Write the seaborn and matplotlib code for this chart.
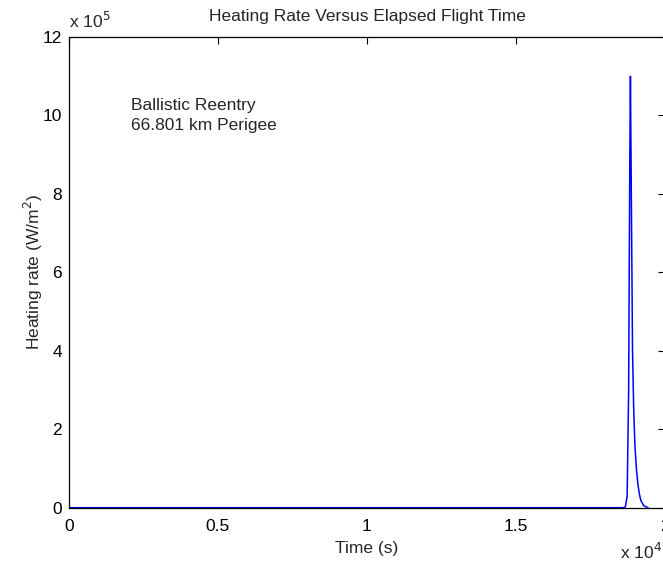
import matplotlib
matplotlib.use("Agg")
import matplotlib.pyplot as plt
import seaborn as sns
import pandas as pd

# Data (time in s, heating rate in W/m^2)
time_s = [0, 5000, 10000, 15000, 18600, 18680, 18740, 18790, 18830, 18850,
          18880, 18920, 18960, 19000, 19050, 19100, 19150, 19200, 19300, 19440]
heating = [0, 0, 0, 0, 0, 2000, 30000, 300000, 900000, 1100000,
           800000, 400000, 250000, 160000, 100000, 60000, 35000, 18000, 5000, 0]

x_ticks = [0, 5000, 10000, 15000, 20000]
x_tick_labels = ["0", "0.5", "1", "1.5", "2"]
y_ticks = [0, 200000, 400000, 600000, 800000, 1000000, 1200000]
y_tick_labels = ["0", "2", "4", "6", "8", "10", "12"]

sns.set_style("white")
plt.rcParams['font.family'] = ['Liberation Sans', 'DejaVu Sans']

FS = 12.5
df = pd.DataFrame({"t": time_s, "q": heating})

fig = plt.figure(figsize=(6.63, 5.67), dpi=100)
ax = fig.add_axes([68.7/663, (567-507.7)/567, (664.7-68.7)/663, (507.7-37)/567])

sns.lineplot(data=df, x="t", y="q", ax=ax, color=(0, 0, 1), linewidth=1.1)

ax.set_xlim(0, 20000)
ax.set_ylim(0, 1200000)
ax.set_xticks(x_ticks)
ax.set_xticklabels(x_tick_labels)
ax.set_yticks(y_ticks)
ax.set_yticklabels(y_tick_labels)
ax.tick_params(direction="in", length=5, width=0.8, top=True, right=True,
               labelsize=FS, colors="black", pad=5)
ax.tick_params(axis="x", pad=8)
for s in ax.spines.values():
    s.set_visible(True)
    s.set_color("black")
    s.set_linewidth(0.9)

ax.set_xlabel("Time (s)", fontsize=FS, labelpad=5)
ax.set_ylabel("Heating rate (W/m$^2$)", fontsize=FS, labelpad=-2)
fig.text(367/663, 1 - 16/567, "Heating Rate Versus Elapsed Flight Time",
         fontsize=FS, ha="center", va="center")

ax.text(0, 1.012, "x 10$^5$", transform=ax.transAxes, fontsize=FS,
        ha="left", va="bottom")
fig.text(662/663, 1 - 559/567, "x 10$^4$", fontsize=FS, ha="right", va="baseline")

ax.text(2100, 1000000, "Ballistic Reentry\n66.801 km Perigee", fontsize=FS,
        ha="left", va="center", linespacing=1.45)

fig.savefig("out.png", dpi=100)
